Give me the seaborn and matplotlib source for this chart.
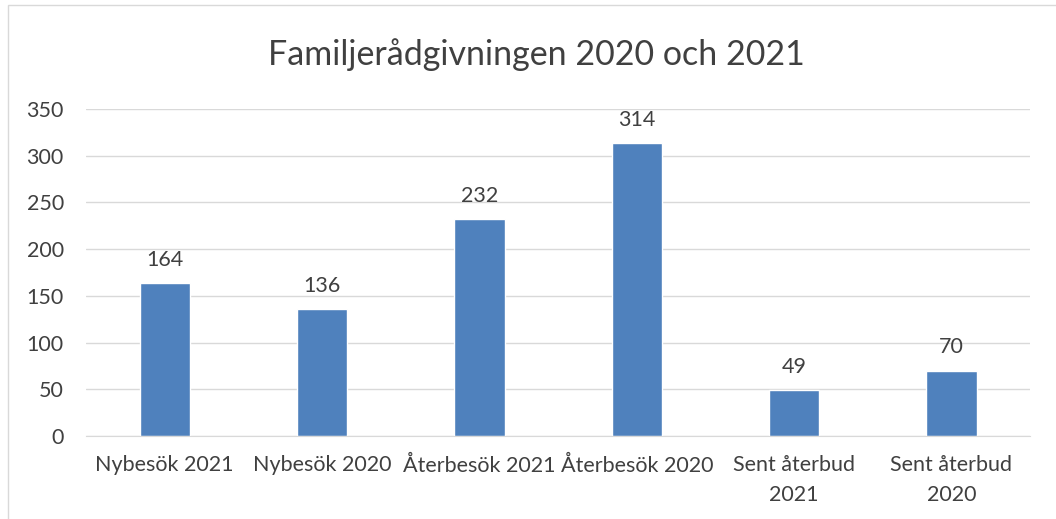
import matplotlib
matplotlib.use('Agg')
import pandas as pd
import seaborn as sns
import matplotlib.pyplot as plt
from matplotlib.patches import Rectangle

# data
categories = ['Nybesök 2021', 'Nybesök 2020', 'Återbesök 2021', 'Återbesök 2020',
              'Sent återbud\n2021', 'Sent återbud\n2020']
values = [164, 136, 232, 314, 49, 70]
yticks = [0, 50, 100, 150, 200, 250, 300, 350]

df = pd.DataFrame({'Kategori': categories, 'Antal': values})

sns.set_style('white')
plt.rcParams['font.family'] = ['Lato', 'DejaVu Sans']

fig = plt.figure(figsize=(10.56, 5.19), dpi=100)
ax = fig.add_axes([0.0815, 0.160, 0.894, 0.630])

sns.barplot(data=df, x='Kategori', y='Antal', color='#4F81BD', width=0.32,
            saturation=1, ax=ax)

ax.set_ylim(0, 350)
ax.set_yticks(yticks)
ax.set_yticklabels([str(t) for t in yticks], fontsize=15.5, color='#404040')
for lbl in ax.get_xticklabels():
    lbl.set_linespacing(1.6)
ax.tick_params(axis='x', labelsize=15.5, colors='#404040', length=0, pad=14)
ax.tick_params(axis='y', length=0, pad=16)
ax.set_xlabel('')
ax.set_ylabel('')
ax.grid(axis='y', color='#D9D9D9', linewidth=1)
ax.set_axisbelow(True)
for s in ['top', 'right', 'left']:
    ax.spines[s].set_visible(False)
ax.spines['bottom'].set_color('#D9D9D9')

for i, v in enumerate(values):
    ax.text(i, v + 14, str(v), ha='center', va='bottom', fontsize=15.5, color='#404040')

fig.text(0.508, 0.895, 'Familjerådgivningen 2020 och 2021', ha='center', va='center',
         fontsize=24.5, color='#404040')

# chart frame
fig.patches.append(Rectangle((0.008, -0.01), 1.0, 1.0, transform=fig.transFigure,
                             fill=False, edgecolor='#D9D9D9', linewidth=1))

fig.savefig('out.png', dpi=100)
